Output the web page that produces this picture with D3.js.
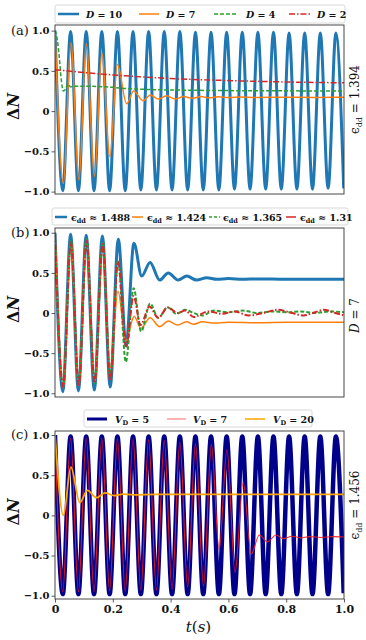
<!DOCTYPE html>
<html><head><meta charset="utf-8">
<script src="https://cdn.jsdelivr.net/npm/d3@7"></script>
<style>body{margin:0;background:#fff}svg{display:block}</style>
</head><body>
<svg id="chart" width="366" height="640"></svg>
<script>
// ---------- data ----------
const tExt = [0,0.027,0.054,0.081,0.108,0.135,0.162,0.189,0.216,0.243,0.270,0.297,0.324,0.351,0.378,0.405,0.432,0.459,0.486,0.513,0.540,0.567,0.594,0.621,0.648,0.675,0.702,0.729,0.756,0.783,0.810,0.837,0.864,0.891,0.918,0.945,0.972,0.999];

// panel (a)
const aD10 = [1.0,-0.99,0.99,-0.99,0.99,-0.99,0.99,-0.99,0.99,-0.99,0.99,-0.98,0.99,-0.98,0.99,-0.98,0.99,-0.98,0.98,-0.98,0.98,-0.98,0.98,-0.97,0.98,-0.97,0.98,-0.97,0.98,-0.97,0.97,-0.97,0.97,-0.97,0.97,-0.96,0.97,-0.96];
const aD7 = [[0,1.0],[0.029,-0.90],[0.055,0.85],[0.083,-0.855],[0.108,0.835],[0.137,-0.81],[0.162,0.72],[0.19,-0.565],[0.216,0.58],[0.248,0.09],[0.272,0.25],[0.305,0.13],[0.33,0.2],[0.358,0.15],[0.386,0.19],[0.415,0.15],[0.445,0.18],[0.475,0.16],[0.505,0.18],[0.535,0.165],[0.565,0.178],[0.6,0.168],[0.64,0.176],[0.7,0.17],[0.8,0.173],[0.9,0.17],[1.0,0.172]];
const aD4 = [[0,1.0],[0.006,0.93],[0.014,0.7],[0.022,0.38],[0.029,0.25],[0.036,0.27],[0.045,0.34],[0.054,0.30],[0.062,0.31],[0.1,0.31],[0.15,0.305],[0.2,0.295],[0.25,0.28],[0.3,0.272],[0.35,0.266],[0.45,0.26],[0.6,0.255],[0.8,0.252],[1.0,0.25]];
const aD2 = [[0,0.515],[0.1,0.48],[0.2,0.45],[0.3,0.425],[0.4,0.405],[0.5,0.39],[0.6,0.38],[0.7,0.37],[0.8,0.362],[0.9,0.356],[1.0,0.352]];

// panel (b)
const b1488 = [[0,1.0],[0.027,-0.98],[0.054,0.98],[0.081,-0.97],[0.108,0.97],[0.136,-0.96],[0.164,0.96],[0.191,-0.92],[0.219,0.92],[0.246,-0.41],[0.273,0.87],[0.30,0.46],[0.329,0.63],[0.362,0.41],[0.392,0.50],[0.426,0.41],[0.456,0.46],[0.49,0.41],[0.525,0.44],[0.56,0.42],[0.6,0.43],[0.65,0.42],[0.7,0.425],[0.8,0.42],[0.9,0.42],[1.0,0.42]];
const b1424 = [[0,1.0],[0.028,-0.93],[0.055,0.88],[0.082,-0.90],[0.109,0.90],[0.137,-0.85],[0.165,0.79],[0.191,-0.68],[0.218,0.27],[0.245,-0.35],[0.274,-0.04],[0.297,-0.19],[0.329,-0.06],[0.362,-0.17],[0.392,-0.10],[0.425,-0.15],[0.455,-0.11],[0.48,-0.14],[0.51,-0.11],[0.55,-0.125],[0.6,-0.115],[0.7,-0.12],[0.8,-0.115],[1.0,-0.115]];
const b1365 = [[0,1.0],[0.028,-0.90],[0.055,0.90],[0.082,-0.90],[0.109,0.92],[0.137,-0.87],[0.165,0.89],[0.191,-0.79],[0.218,0.66],[0.245,-0.61],[0.272,0.31],[0.298,-0.23],[0.329,0.12],[0.357,-0.06],[0.39,0.07],[0.42,-0.01],[0.45,0.04],[0.48,0.0],[0.51,-0.03],[0.55,0.03],[0.6,0.01],[0.65,0.03],[0.7,0.0],[0.75,0.02],[0.8,0.01],[0.85,0.02],[0.9,0.0],[0.95,0.02],[1.0,0.01]];
const b131 = [[0,1.0],[0.028,-0.92],[0.055,0.88],[0.082,-0.91],[0.109,0.9],[0.137,-0.87],[0.165,0.86],[0.191,-0.84],[0.218,0.64],[0.246,-0.41],[0.272,0.21],[0.296,-0.15],[0.327,0.08],[0.357,-0.06],[0.39,0.07],[0.425,0.0],[0.45,0.03],[0.48,-0.05],[0.53,0.02],[0.58,-0.01],[0.62,0.02],[0.67,-0.03],[0.72,0.0],[0.77,0.04],[0.82,0.0],[0.86,-0.03],[0.9,0.01],[0.93,0.04],[0.97,0.0],[1.0,-0.03]];

// panel (c)
const cV5 = [1.0,-0.98,0.98,-0.98,0.98,-0.98,0.98,-0.98,0.98,-0.98,0.98,-0.98,0.98,-0.98,0.98,-0.98,0.98,-0.98,0.98,-0.98,0.98,-0.98,0.98,-0.98,0.98,-0.98,0.98,-0.98,0.98,-0.98,0.98,-0.98,0.98,-0.98,0.98,-0.98,0.98,-0.97];
const cV7 = [[0,1.0],[0.027,-0.95],[0.054,0.96],[0.081,-0.95],[0.108,0.96],[0.135,-0.95],[0.162,0.96],[0.189,-0.94],[0.216,0.95],[0.243,-0.94],[0.270,0.95],[0.297,-0.93],[0.324,0.94],[0.351,-0.93],[0.378,0.93],[0.405,-0.92],[0.432,0.91],[0.459,-0.89],[0.486,0.89],[0.514,-0.88],[0.541,0.88],[0.568,-0.43],[0.595,0.82],[0.623,-0.71],[0.651,0.41],[0.679,-0.48],[0.707,-0.245],[0.735,-0.33],[0.765,-0.245],[0.79,-0.29],[0.82,-0.26],[0.85,-0.28],[0.88,-0.265],[0.92,-0.275],[0.96,-0.265],[1.0,-0.27]];
const cV20 = [[0,1.0],[0.029,0.0],[0.055,0.60],[0.086,0.16],[0.112,0.31],[0.144,0.22],[0.173,0.28],[0.205,0.245],[0.235,0.265],[0.27,0.255],[0.35,0.26],[0.5,0.26],[0.7,0.26],[1.0,0.26]];

const yTickVals = [-1,-0.5,0,0.5,1];
const yTickLabels = ["\u22121.0","\u22120.5","0","0.5","1.0"];
const xTickVals = [0,0.2,0.4,0.6,0.8,1.0];
const xTickLabels = ["0","0.2","0.4","0.6","0.8","1.0"];

// ---------- drawing ----------
const svg = d3.select("#chart");
const X0 = 55, X1 = 344;
const x = d3.scaleLinear().domain([0,1]).range([X0,X1]);
const pairsFrom = (ts, vs) => ts.map((t,i)=>[t,vs[i]]);
const serif = "'DejaVu Serif', serif";

const panels = [
  {id:"a", top:25, bottom:194, lo:-1.03, hi:1.07, label:"(a)", right:"eps", rightVal:"1.394", rightY:-10,
   series:[
     {d:pairsFrom(tExt,aD10), c:"#1f77b4", w:3},
     {d:aD7, c:"#ff7f0e", w:1.5},
     {d:aD4, c:"#2ca02c", w:1.5, dash:"4,2"},
     {d:aD2, c:"#d62728", w:1.5, dash:"6,2,1.5,2"}
   ]},
  {id:"b", top:228, bottom:397, lo:-1.046, hi:1.059, label:"(b)", right:"D", rightVal:"7", rightY:3,
   series:[
     {d:b1488, c:"#1f77b4", w:3},
     {d:b1424, c:"#ff7f0e", w:1.5},
     {d:b1365, c:"#2ca02c", w:2, dash:"4,2"},
     {d:b131, c:"#d62728", w:2, dash:"6,2,1.5,2"}
   ]},
  {id:"c", top:431, bottom:599, lo:-1.041, hi:1.05, label:"(c)", right:"eps", rightVal:"1.456", rightY:-10,
   series:[
     {d:pairsFrom(tExt,cV5), c:"#00008b", w:4.5},
     {d:cV7, c:"#ff1a1a", w:1.1, op:0.9},
     {d:cV20, c:"#ffa500", w:1.8}
   ]}
];

panels.forEach(p=>{
  const y = d3.scaleLinear().domain([p.lo,p.hi]).range([p.bottom,p.top]);
  const g = svg.append("g");
  g.append("clipPath").attr("id","clip"+p.id).append("rect")
    .attr("x",X0).attr("y",p.top).attr("width",X1-X0).attr("height",p.bottom-p.top);
  const line = d3.line().x(d=>x(d[0])).y(d=>y(d[1])).curve(d3.curveMonotoneX);
  const lg = g.append("g").attr("clip-path",`url(#clip${p.id})`);
  p.series.forEach(s=>{
    lg.append("path").attr("d",line(s.d)).attr("fill","none")
      .attr("stroke",s.c).attr("stroke-width",s.w)
      .attr("stroke-dasharray",s.dash||null)
      .attr("stroke-opacity",s.op||1)
      .attr("stroke-linejoin","round");
  });
  // y axis
  const ya = d3.axisLeft(y).tickValues(yTickVals)
    .tickFormat((d,i)=>yTickLabels[i]).tickSize(3.5).tickPadding(2);
  const yg = g.append("g").attr("transform",`translate(${X0},0)`).call(ya);
  yg.select(".domain").remove();
  yg.selectAll("line").attr("stroke","#333").attr("stroke-width",0.8);
  yg.selectAll("text").attr("font-family",serif).attr("font-weight","bold")
    .attr("font-size",10).attr("fill","#111");
  // frame
  g.append("rect").attr("x",X0).attr("y",p.top).attr("width",X1-X0).attr("height",p.bottom-p.top)
    .attr("fill","none").attr("stroke","#333").attr("stroke-width",0.9);
  // panel label
  g.append("text").attr("x",11).attr("y",y(1)+4).attr("font-family",serif)
    .attr("font-size",13).attr("fill","#111").text(p.label);
  // y label
  const cy = (p.top+p.bottom)/2 - 3;
  const yl = g.append("text").attr("transform",`translate(19,${cy}) rotate(-90)`)
    .attr("text-anchor","middle").attr("font-family",serif).attr("font-size",16)
    .attr("font-weight","bold").attr("fill","#111");
  yl.append("tspan").text("\u0394");
  yl.append("tspan").attr("font-style","italic").text("N");
  // right label
  const ry = (p.top+p.bottom)/2 + p.rightY;
  const rl = g.append("text").attr("transform",`translate(359,${ry}) rotate(-90)`)
    .attr("text-anchor","middle").attr("font-family",serif).attr("font-size",12).attr("fill","#111");
  if(p.right==="eps"){
    rl.append("tspan").text("\u03f5");
    rl.append("tspan").attr("font-size",8).attr("dy",2.5).text("dd");
    rl.append("tspan").attr("dy",-2.5).text(" = "+p.rightVal);
  } else {
    rl.append("tspan").attr("font-style","italic").text("D");
    rl.append("tspan").text(" = "+p.rightVal);
  }
  if(p.id==="c"){
    const xa = d3.axisBottom(x).tickValues(xTickVals).tickFormat((d,i)=>xTickLabels[i]).tickSize(3.5).tickPadding(3);
    const xg = g.append("g").attr("transform",`translate(0,${p.bottom})`).call(xa);
    xg.select(".domain").remove();
    xg.selectAll("line").attr("stroke","#333").attr("stroke-width",0.8);
    xg.selectAll("text").attr("font-family",serif).attr("font-weight","bold")
      .attr("font-size",11).attr("fill","#111");
  }
});

// x label
const xl = svg.append("text").attr("x",(X0+X1)/2-1).attr("y",632).attr("text-anchor","middle")
  .attr("font-family",serif).attr("font-size",15).attr("fill","#111");
xl.append("tspan").attr("font-style","italic").text("t");
xl.append("tspan").text("(");
xl.append("tspan").attr("font-style","italic").text("s");
xl.append("tspan").text(")");

// ---------- legends ----------
function legend(box, items, cy){
  const g = svg.append("g");
  g.append("rect").attr("x",box[0]).attr("y",box[1]).attr("width",box[2]).attr("height",box[3])
    .attr("rx",2).attr("fill","#fff").attr("stroke","#d4d4d4").attr("stroke-width",0.9);
  items.forEach(it=>{
    g.append("line").attr("x1",it.h[0]).attr("x2",it.h[1]).attr("y1",cy).attr("y2",cy)
      .attr("stroke",it.c).attr("stroke-width",it.w).attr("stroke-dasharray",it.dash||null)
      .attr("stroke-opacity",it.op||1);
    const t = g.append("text").attr("x",it.tx).attr("y",cy+3.5).attr("font-family",serif)
      .attr("font-size",9.5).attr("font-weight","bold").attr("fill","#111");
    it.build(t);
  });
}
const legA = ["10","7","4","2"];
const legB = ["1.488","1.424","1.365","1.31"];
const legC = ["5","7","20"];
const mkD = v => t => { t.append("tspan").attr("font-style","italic").text("D"); t.append("tspan").text(" = "+v); };
const mkE = v => t => { t.append("tspan").text("\u03f5"); t.append("tspan").attr("font-size",6.5).attr("dy",2).text("dd"); t.append("tspan").attr("dy",-2).text(" \u2248 "+v); };
const mkV = v => t => { t.append("tspan").attr("font-style","italic").text("V"); t.append("tspan").attr("font-size",6.5).attr("dy",2).text("D"); t.append("tspan").attr("dy",-2).text(" = "+v); };

legend([55,5,290,18],[
  {h:[58,79],c:"#1f77b4",w:2.5,tx:86,build:mkD(legA[0])},
  {h:[139,159],c:"#ff7f0e",w:1.5,tx:166,build:mkD(legA[1])},
  {h:[214,236],c:"#2ca02c",w:1.5,dash:"4,2",tx:246,build:mkD(legA[2])},
  {h:[289,311],c:"#d62728",w:1.5,dash:"6,2,1.5,2",tx:317,build:mkD(legA[3])}
],14);
legend([52,208,296,17],[
  {h:[55,67],c:"#1f77b4",w:2.5,tx:71,build:mkE(legB[0])},
  {h:[132,143],c:"#ff7f0e",w:1.5,tx:147,build:mkE(legB[1])},
  {h:[209,220],c:"#2ca02c",w:1.5,dash:"3,2",tx:223,build:mkE(legB[2])},
  {h:[286,296],c:"#d62728",w:1.5,tx:300,build:mkE(legB[3])}
],217);
legend([84,410,228,17],[
  {h:[87,107],c:"#00008b",w:3,tx:115,build:mkV(legC[0])},
  {h:[167,186],c:"#ff1a1a",w:1.1,op:0.6,tx:193,build:mkV(legC[1])},
  {h:[245,265],c:"#ffa500",w:1.5,tx:273,build:mkV(legC[2])}
],419);
</script>
</body></html>
